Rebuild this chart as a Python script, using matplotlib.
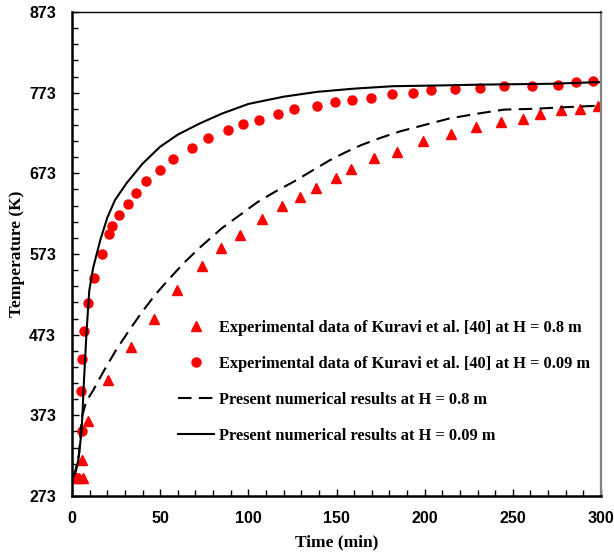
import matplotlib

matplotlib.use("Agg")

import matplotlib.pyplot as plt
from matplotlib.ticker import FixedLocator, MultipleLocator

# Experimental data, H = 0.8 m (triangles)
exp_08_time = [2, 4, 6, 5.8, 9.3, 20.6, 33.5, 46.7, 59.7, 73.9, 84.5, 95.3, 107.9, 119.1,
               129.5, 138.4, 149.6, 158.1, 171.5, 184.2, 199.1, 215.2, 229.3, 243.5,
               256, 265.5, 277.4, 288.2, 298.5]
exp_08_temp = [295, 295, 295, 318, 366, 417, 458, 493, 528, 558, 580, 596, 617, 633,
               644, 655, 667, 678, 692, 700, 713, 722, 731, 737,
               740, 746, 751, 753, 757]

# Experimental data, H = 0.09 m (circles)
exp_009_time = [0.2, 3, 5.7, 5.3, 5.8, 7.0, 9.3, 12.5, 17.2, 21.2, 22.9, 26.7, 31.8, 36.5,
                42.1, 50.1, 57.3, 68.2, 77, 88.7, 96.8, 105.8, 117, 125.7, 139.2,
                149.2, 159, 169.4, 181.5, 193.6, 203.6, 217, 231.4, 244.9, 261,
                275.5, 286, 295.3]
exp_009_temp = [295, 295, 354, 403, 443, 478, 512, 543, 573, 598, 608, 621, 635, 649,
                663, 677, 691, 705, 717, 727, 734, 739, 747, 753, 757,
                761, 764, 767, 771, 773, 776, 778, 779, 781, 781,
                783, 786, 787]

# Numerical results, H = 0.8 m (dashed)
num_08_time = [0, 2, 4, 5.5, 8, 12, 18, 25, 32, 39, 47, 53, 63, 73, 85, 95, 105,
               115, 126, 136, 146, 155, 164, 175, 186, 200, 214, 230, 245, 262, 280, 300]
num_08_temp = [295, 305, 325, 370, 390, 404, 428, 454, 477, 499, 522, 537, 561, 582,
               605, 621, 637, 650, 663, 676, 689, 699, 708, 717, 725, 733, 741, 747,
               752, 753, 755, 757]

# Numerical results, H = 0.09 m (solid)
num_009_time = [0, 2, 3.6, 5.5, 6.8, 8.3, 9.8, 12, 16, 20, 24.4, 31, 40, 50, 60, 72.6,
                85, 100, 120, 139, 160, 182, 210, 233, 271, 298, 300]
num_009_temp = [295, 302, 318, 355, 417, 479, 528, 556, 590, 618, 640, 661, 685, 706,
                721, 735, 747, 759, 768, 774, 778, 781, 782, 783, 784, 786, 786]

serif = "Liberation Serif"

fig = plt.figure(figsize=(6.14, 5.58), dpi=100)
ax = fig.add_axes([0.1173, 0.1111, 0.8615, 0.8674])

ax.plot(exp_08_time, exp_08_temp, linestyle="none", marker="^", markersize=7.5,
        color="#ff0000", label="Experimental data of Kuravi et al. [40] at H = 0.8 m")
ax.plot(exp_009_time, exp_009_temp, linestyle="none", marker="o", markersize=6.5,
        color="#ff0000", label="Experimental data of Kuravi et al. [40] at H = 0.09 m")
ax.plot(num_08_time, num_08_temp, color="black", linewidth=1.5, dashes=(6.5, 3.5),
        label="Present numerical results at H = 0.8 m")
ax.plot(num_009_time, num_009_temp, color="black", linewidth=1.5,
        label="Present numerical results at H = 0.09 m")

ax.set_xlim(0, 300)
ax.set_ylim(273, 873)
ax.set_yticks(range(273, 874, 100))
ax.yaxis.set_minor_locator(FixedLocator(list(range(273, 874, 20))))
ax.xaxis.set_major_locator(MultipleLocator(50))
ax.xaxis.set_minor_locator(MultipleLocator(10))

ax.tick_params(which="both", direction="in", top=False, right=False, width=1.0)
ax.tick_params(which="major", length=5, labelsize=11.5)
ax.tick_params(which="minor", length=4)
ax.tick_params(axis="x", which="major", pad=11)
ax.tick_params(axis="y", which="major", pad=11.5)
for label in ax.get_xticklabels() + ax.get_yticklabels():
    label.set_fontweight("bold")
    label.set_family("Liberation Sans")

ax.spines["left"].set_linewidth(1.8)
ax.spines["bottom"].set_linewidth(1.8)
ax.spines["top"].set_linewidth(1.0)
ax.spines["right"].set_linewidth(1.6)
ax.spines["right"].set_color("#808080")

ax.set_xlabel("Time (min)", family=serif, fontweight="bold", fontsize=12.5, labelpad=6)
ax.set_ylabel("Temperature (K)", family=serif, fontweight="bold", fontsize=12.5, labelpad=3)

ax.legend(loc="lower left", bbox_to_anchor=(0.173, 0.077), frameon=False,
          prop={"family": serif, "weight": "bold", "size": 11.8},
          handlelength=2.2, labelspacing=1.22, handletextpad=0.3)

fig.savefig("out.png", dpi=100)
